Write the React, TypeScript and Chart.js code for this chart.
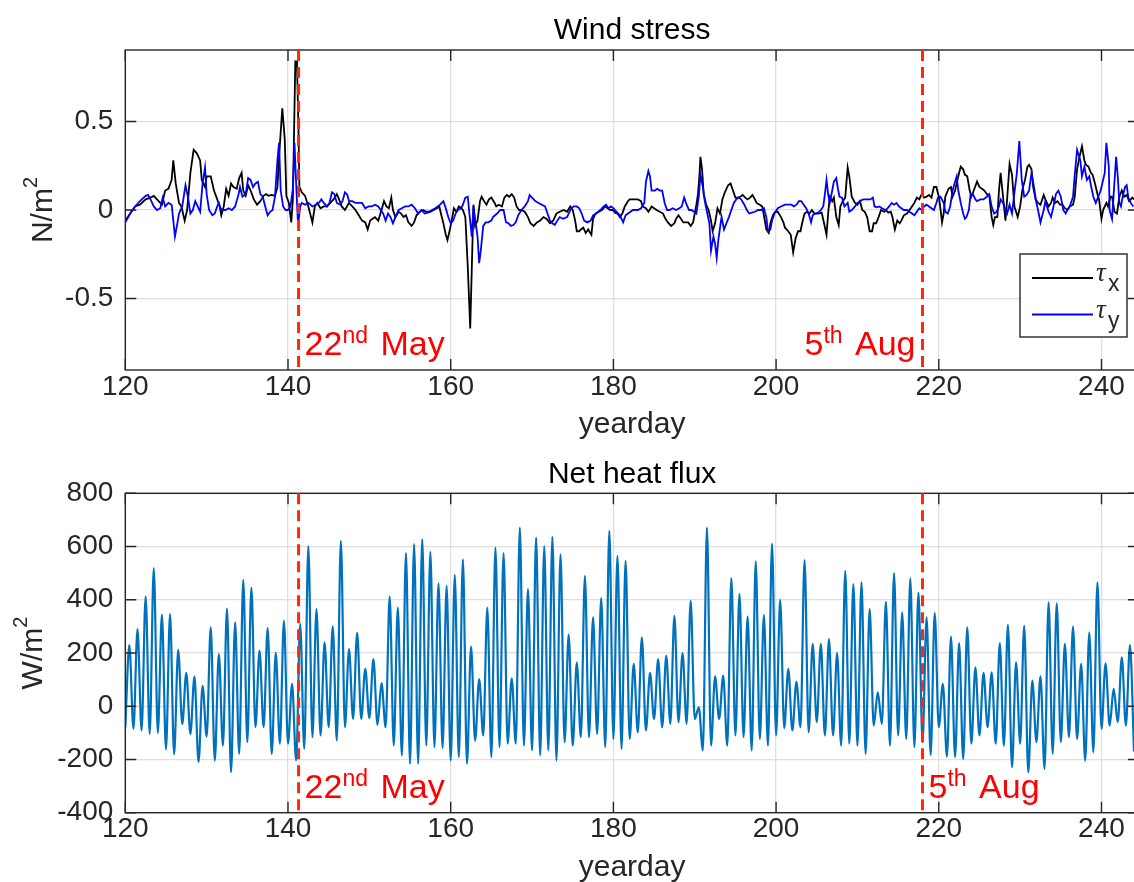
import React, { useEffect, useRef } from 'react';
import { Chart, registerables } from 'chart.js';

Chart.register(...registerables);

const FONT = '"Liberation Sans", Arial, Helvetica, sans-serif';
const AXIS_COLOR = '#262626';
const GRID_COLOR = '#dfdfdf';
const TICK_SIZE = 28;
const LABEL_SIZE = 30;

const X_MIN = 120;
const X_MAX = 244.6;
const X_TICKS = [120, 140, 160, 180, 200, 220, 240];
const WIND_Y_TICKS = [-0.5, 0, 0.5];
const WIND_Y_MIN = -0.904;
const WIND_Y_MAX = 0.904;
const FLUX_Y_TICKS = [-400, -200, 0, 200, 400, 600, 800];
const FLUX_Y_MIN = -400;
const FLUX_Y_MAX = 800;

const EVENT_DAYS = [141.3, 218.0];
const EVENT_LABELS = [
  ['22', 'nd', ' May'],
  ['5', 'th', ' Aug'],
];

// Wind stress, tau_x (N/m^2): [yearday, value]
const tauX: [number, number][] = [
  [120.0,-0.06],[120.6,-0.02],[121.2,0.02],[121.8,0.03],[122.5,0.06],[123.1,0.07],[123.5,0.08],[124.1,0.05],[124.5,0.03],[124.9,0.11],
  [125.3,0.12],[125.7,0.17],[125.9,0.28],[126.2,0.15],[126.6,0.04],[126.9,0.02],[127.3,-0.06],[127.6,0.0],[128.0,0.21],[128.4,0.34],
  [128.8,0.32],[129.2,0.28],[129.4,0.17],[129.8,0.13],[130.0,0.19],[130.5,0.19],[130.9,0.11],[131.3,0.06],[131.6,0.02],[131.8,-0.03],
  [132.1,0.02],[132.4,0.12],[132.7,0.08],[133.0,0.15],[133.3,0.13],[133.7,0.12],[134.0,0.18],[134.3,0.21],[134.5,0.11],[134.8,0.08],
  [135.1,0.14],[135.4,0.11],[135.8,0.06],[136.2,0.03],[136.6,0.05],[137.0,0.08],[137.3,0.09],[137.6,0.08],[138.0,0.085],[138.4,0.08],
  [138.7,0.13],[138.9,0.30],[139.3,0.575],[139.6,0.40],[139.8,0.08],[140.1,0.04],[140.4,-0.07],[140.6,0.06],[140.9,0.84],[141.1,0.84],
  [141.3,0.43],[141.4,0.13],[141.7,0.10],[142.1,0.08],[142.5,0.02],[143.0,-0.07],[143.3,0.02],[143.6,0.04],[144.0,0.01],[144.4,0.02],
  [144.8,0.02],[145.2,0.04],[145.6,0.06],[146.0,0.09],[146.2,0.07],[146.6,0.02],[147.0,0.0],[147.5,0.04],[147.9,0.02],[148.3,0.0],
  [148.7,-0.03],[149.1,-0.06],[149.5,-0.07],[149.8,-0.11],[150.1,-0.06],[150.4,-0.05],[150.7,-0.04],[151.1,-0.06],[151.3,-0.03],
  [151.5,0.0],[151.8,0.05],[152.1,0.02],[152.4,0.01],[152.7,0.07],[152.9,0.0],[153.2,-0.04],[153.6,-0.01],[153.9,-0.02],[154.2,-0.04],
  [154.5,-0.03],[154.8,-0.07],[155.2,-0.09],[155.5,-0.07],[155.8,-0.03],[156.2,-0.01],[156.6,0.0],[157.0,-0.01],[157.5,-0.01],[157.9,0.0],
  [158.3,0.01],[158.6,0.02],[158.8,-0.02],[159.1,-0.075],[159.4,-0.14],[159.6,-0.17],[159.9,-0.11],[160.2,-0.04],[160.4,0.01],[160.7,-0.01],
  [161.0,0.02],[161.3,0.01],[161.5,0.0],[161.8,-0.04],[162.1,-0.32],[162.4,-0.67],[162.6,-0.32],[162.8,0.03],[163.0,-0.09],[163.3,-0.06],
  [163.6,0.05],[163.8,0.075],[164.1,0.05],[164.4,0.03],[164.7,0.06],[165.0,0.07],[165.4,0.04],[165.6,0.02],[165.9,0.03],[166.3,0.02],
  [166.6,0.07],[166.9,0.085],[167.2,0.075],[167.5,0.09],[167.8,0.07],[168.1,0.02],[168.4,0.0],[168.7,0.0],[169.1,-0.01],[169.5,-0.04],
  [169.8,-0.075],[170.2,-0.09],[170.6,-0.07],[171.0,-0.06],[171.4,-0.04],[171.8,-0.05],[172.2,-0.075],[172.6,-0.06],[173.0,-0.02],[173.4,-0.01],
  [173.9,0.0],[174.3,-0.01],[174.7,0.02],[175.0,0.0],[175.3,-0.06],[175.5,-0.12],[175.8,-0.12],[176.0,-0.11],[176.3,-0.10],[176.6,-0.13],
  [176.9,-0.11],[177.3,-0.14],[177.5,-0.05],[177.8,-0.02],[178.2,-0.01],[178.6,0.0],[179.0,0.02],[179.3,0.01],[179.6,0.0],[179.9,0.0],
  [180.2,-0.015],[180.5,-0.02],[180.8,-0.04],[181.1,-0.02],[181.4,0.02],[181.8,0.05],[182.0,0.06],[182.4,0.06],
  [182.6,0.06],[183.0,0.06],[183.4,0.05],[183.6,0.02],[184.0,0.01],[184.3,-0.01],[184.7,0.02],[185.0,0.01],[185.3,0.0],[185.7,-0.01],
  [186.1,-0.02],[186.4,-0.05],[186.7,-0.07],[187.1,-0.09],[187.5,-0.075],[187.7,-0.05],[188.0,-0.03],[188.3,-0.05],[188.6,-0.07],[188.8,-0.07],
  [189.2,-0.07],[189.5,-0.09],[189.8,-0.07],[190.0,-0.02],[190.2,0.03],[190.4,0.09],[190.6,0.21],[190.7,0.30],[190.9,0.23],[191.1,0.09],
  [191.4,0.03],[191.7,0.0],[192.0,-0.06],[192.2,-0.12],[192.5,-0.075],[192.8,0.01],[193.1,-0.02],[193.4,0.06],[193.7,0.10],[194.1,0.14],
  [194.4,0.15],[194.7,0.11],[195.0,0.07],[195.3,0.07],[195.6,0.075],[195.9,0.085],[196.2,0.07],[196.5,0.06],[196.8,0.07],[197.1,0.085],
  [197.4,0.06],[197.6,0.04],[198.0,0.03],[198.3,0.02],[198.5,-0.03],[198.8,-0.11],[199.1,-0.13],[199.3,-0.075],[199.6,-0.03],[199.9,-0.01],
  [200.2,-0.01],[200.6,-0.04],[200.9,-0.07],[201.1,-0.10],[201.5,-0.12],[201.8,-0.14],[202.1,-0.24],[202.4,-0.16],[202.7,-0.12],[203.0,-0.12],
  [203.2,-0.075],[203.5,-0.02],[203.8,-0.01],[204.1,-0.02],[204.4,0.0],[204.7,-0.02],[205.2,-0.02],[205.6,-0.015],[205.9,-0.075],[206.2,-0.14],
  [206.4,-0.02],[206.6,0.075],[206.9,0.05],[207.1,0.07],[207.4,-0.04],[207.7,-0.085],[207.9,0.02],[208.2,0.05],[208.5,0.07],[208.8,0.24],
  [209.0,0.19],[209.3,0.075],[209.7,0.04],[210.0,0.03],[210.3,0.05],[210.6,0.0],[210.9,-0.01],[211.2,-0.04],[211.5,-0.12],[211.8,-0.12],
  [212.0,-0.075],[212.3,-0.075],[212.6,-0.04],[212.9,0.0],[213.3,-0.01],[213.5,0.0],
  [213.8,-0.015],[214.1,-0.01],[214.3,-0.04],[214.6,-0.11],[214.9,-0.06],[215.2,-0.075],[215.4,-0.06],[215.7,-0.03],[216.1,-0.02],[216.4,0.0],
  [216.7,0.02],[217.0,0.04],[217.3,0.07],[217.6,0.06],[217.9,0.09],[218.2,0.07],[218.5,0.075],[218.8,0.085],[219.1,0.07],[219.4,0.13],
  [219.7,0.13],[220.0,0.075],[220.2,0.01],[220.4,-0.07],[220.6,-0.02],[220.8,0.075],[221.2,0.12],[221.5,0.13],[221.7,0.075],[222.0,0.11],
  [222.3,0.17],[222.5,0.21],[222.7,0.245],[223.0,0.23],[223.2,0.20],[223.5,0.19],[223.8,0.11],[224.0,0.075],[224.3,0.11],[224.7,0.16],
  [225.0,0.13],[225.3,0.12],[225.6,0.11],[225.9,0.09],[226.2,0.085],[226.5,-0.04],[226.7,-0.085],[226.9,-0.04],[227.2,-0.04],[227.4,0.11],
  [227.6,0.21],[227.9,0.075],[228.2,-0.06],[228.4,0.06],[228.7,0.26],[229.0,0.20],[229.3,0.02],[229.5,-0.01],[229.7,-0.04],[230.0,0.02],
  [230.3,0.12],[230.6,0.17],[230.9,0.245],[231.1,0.255],[231.4,0.23],[231.6,0.13],[231.9,0.06],[232.2,0.04],[232.5,0.03],[232.9,0.085],
  [233.1,0.06],[233.5,0.02],[233.8,0.04],[234.0,0.07],[234.3,0.04],[234.6,0.05],[234.9,0.03],[235.2,0.03],[235.5,0.01],[235.8,0.0],
  [236.1,0.02],[236.5,0.03],[236.7,0.07],[237.0,0.23],[237.3,0.30],[237.6,0.36],[237.9,0.28],[238.1,0.255],[238.4,0.245],[238.7,0.21],
  [238.9,0.20],[239.2,0.15],[239.5,0.09],[239.7,0.06],[240.0,-0.05],[240.2,0.0],[240.6,0.04],[240.8,0.02],[241.1,0.075],[241.3,0.075],
  [241.6,-0.01],[241.9,-0.02],[242.2,0.075],[242.5,0.11],[242.8,0.075],[243.1,0.085],[243.4,0.05],[243.8,0.07],[244.0,0.06],
];

// Wind stress, tau_y (N/m^2): [yearday, value]
const tauY: [number, number][] = [
  [120.0,-0.07],[120.6,-0.02],[121.2,0.02],[121.8,0.05],[122.5,0.08],[122.8,0.085],[123.1,0.06],[123.5,0.02],[123.9,0.0],[124.3,0.01],
  [124.6,0.07],[124.9,0.02],[125.3,0.04],[125.7,0.03],[125.9,-0.06],[126.1,-0.15],[126.4,-0.075],[126.6,-0.02],[127.0,0.02],[127.4,0.14],
  [127.7,0.075],[128.0,-0.02],[128.3,0.0],[128.6,0.05],[128.9,0.02],[129.2,-0.01],[129.5,0.15],[129.8,0.24],[130.0,0.09],[130.3,0.0],
  [130.7,-0.03],[131.0,-0.02],[131.3,0.02],[131.5,0.04],[131.7,0.01],[131.9,0.0],[132.3,0.0],[132.7,0.01],[133.1,0.0],[133.5,0.02],
  [133.9,0.085],[134.1,0.13],[134.4,0.075],[134.8,0.09],[135.1,0.18],[135.4,0.17],[135.7,0.13],[136.0,0.15],[136.3,0.16],[136.6,0.09],
  [136.9,0.075],[137.2,0.02],[137.5,-0.03],[137.8,-0.01],[138.1,0.0],[138.4,0.075],[138.7,0.28],[138.9,0.38],[139.1,0.11],[139.4,0.02],
  [139.7,0.0],[140.0,0.0],[140.3,0.02],[140.6,0.12],[140.8,0.38],[141.0,0.15],[141.2,-0.05],[141.3,-0.06],[141.5,0.02],[141.7,0.04],
  [142.1,0.03],[142.5,0.04],[143.0,0.02],[143.4,0.03],[143.8,0.04],[144.1,0.06],[144.4,0.04],[144.8,0.02],[145.1,0.04],[145.4,0.10],
  [145.7,0.09],[146.0,0.04],[146.4,0.03],[146.7,0.05],[147.0,0.10],[147.3,0.085],[147.5,0.05],[147.9,0.05],[148.3,0.04],[148.7,0.04],
  [149.1,0.04],[149.5,0.01],[149.9,0.02],[150.3,0.02],[150.7,0.03],[151.1,0.02],
  [151.7,-0.02],[152.0,-0.06],[152.3,-0.02],[152.6,-0.04],[152.9,-0.075],[153.2,-0.04],[153.6,0.0],[154.0,0.01],[154.4,0.02],[154.8,0.02],
  [155.2,0.03],[155.6,0.01],[156.0,-0.02],[156.4,0.0],[156.8,-0.02],[157.2,-0.015],[157.7,0.0],[158.1,0.01],[158.4,0.02],[158.7,0.03],
  [159.1,0.05],[159.4,0.01],[159.7,-0.04],[160.0,-0.075],[160.3,-0.06],[160.6,-0.02],[160.9,0.0],[161.3,0.01],[161.5,0.03],[161.8,0.07],
  [162.1,0.075],[162.3,-0.02],[162.6,-0.15],[162.8,0.02],[163.0,-0.05],[163.3,-0.15],[163.5,-0.30],[163.7,-0.23],[164.0,-0.09],[164.3,-0.07],
  [164.6,-0.07],[165.0,-0.06],[165.2,-0.04],[165.7,-0.02],[166.1,0.0],[166.5,0.0],[166.8,-0.07],[167.1,-0.075],[167.4,-0.09],[167.7,-0.085],
  [168.0,-0.07],[168.3,-0.03],[168.7,0.0],[169.1,0.02],[169.5,0.05],[169.7,0.085],[170.0,0.07],[170.4,0.05],[170.8,0.04],[171.2,0.03],
  [171.6,0.02],[171.9,-0.02],[172.2,-0.06],[172.5,-0.075],[172.8,-0.085],[173.1,-0.06],[173.4,-0.04],[173.8,-0.05],[174.3,-0.04],[174.7,0.0],
  [175.1,0.02],[175.5,0.02],[175.8,0.01],[176.1,-0.02],[176.4,-0.06],[176.8,-0.07],[177.2,-0.06],[177.5,-0.03],[177.9,-0.02],[178.4,0.0],
  [178.8,0.02],[179.1,0.03],[179.4,0.01],[179.7,0.02],[180.0,0.01],[180.4,-0.01],[180.8,-0.03],[181.2,-0.07],[181.5,-0.03],[181.8,-0.02],
  [182.4,0.0],
  [182.6,0.0],[183.0,0.0],[183.4,0.01],[183.8,0.04],[184.0,0.16],[184.3,0.22],[184.5,0.19],[184.7,0.11],[185.1,0.11],[185.4,0.12],
  [185.7,0.11],[186.0,0.11],[186.3,0.04],[186.6,0.0],[186.9,0.0],[187.3,0.01],[187.7,0.0],[188.1,0.01],[188.4,0.02],[188.7,0.07],
  [189.0,0.03],[189.3,0.0],[189.6,0.0],[189.9,-0.01],[190.2,-0.02],[190.5,0.075],[190.7,0.20],[191.0,0.13],[191.2,0.06],[191.5,-0.01],
  [191.8,-0.075],[192.0,-0.23],[192.3,-0.15],[192.5,-0.19],[192.7,-0.27],[192.9,-0.17],[193.2,-0.07],[193.3,-0.04],[193.6,-0.11],[193.9,-0.075],
  [194.2,-0.04],[194.5,0.0],[194.8,0.04],[195.1,0.06],[195.4,0.07],[195.7,0.06],[196.1,0.03],[196.4,0.0],[196.7,-0.02],[197.0,-0.015],
  [197.4,-0.01],[197.8,0.0],[198.2,0.0],[198.5,0.01],[198.8,-0.04],[199.0,-0.12],[199.3,-0.11],[199.5,-0.06],[199.8,-0.02],[200.2,0.01],
  [200.6,0.02],[201.1,0.03],[201.5,0.03],[201.9,0.03],[202.2,0.02],[202.5,0.03],[202.8,0.05],[203.1,0.05],[203.4,0.03],[203.7,0.01],
  [204.0,-0.02],[204.3,-0.07],[204.5,-0.03],[204.8,-0.02],[205.2,-0.015],[205.5,0.0],[205.8,0.02],[206.0,0.09],[206.2,0.17],[206.4,0.09],
  [206.6,0.04],[206.9,0.11],[207.1,0.16],[207.4,0.18],[207.6,0.12],[207.8,0.075],[208.1,0.07],[208.4,0.02],[208.8,0.04],[209.0,-0.01],
  [209.3,0.0],[209.7,0.02],[210.0,0.04],[210.3,0.05],[210.7,0.06],[211.0,0.06],[211.3,0.06],[211.6,0.06],[211.9,0.07],[212.1,0.02],
  [212.4,0.015],[212.7,0.02],[213.0,0.01],[213.5,0.0],
  [213.9,0.02],[214.2,0.04],[214.5,0.03],[214.8,0.04],[215.1,0.02],[215.4,0.01],[215.7,0.0],[216.1,0.0],[216.4,-0.01],[216.7,-0.02],
  [217.0,-0.03],[217.3,-0.01],[217.6,0.01],[217.9,0.0],[218.2,0.02],[218.5,0.03],[218.8,0.02],[219.1,0.01],[219.4,0.0],[219.7,0.04],
  [219.9,0.07],[220.2,0.075],[220.6,0.04],[220.8,-0.01],[221.1,-0.02],[221.4,0.02],[221.7,0.11],[222.0,0.16],[222.2,0.19],[222.4,0.11],
  [222.7,0.04],[223.0,-0.02],[223.2,-0.05],[223.4,-0.04],[223.7,0.0],[223.9,0.085],[224.2,0.09],[224.5,0.06],[224.7,0.05],[225.1,0.06],
  [225.5,0.06],[225.9,0.075],[226.2,0.09],[226.5,0.02],[226.8,-0.02],[227.1,-0.01],[227.4,0.02],[227.6,0.06],[227.9,0.04],[228.2,0.0],
  [228.4,-0.02],[228.7,0.03],[229.0,-0.02],[229.2,0.06],[229.6,0.21],[229.9,0.39],[230.2,0.17],[230.5,0.075],[230.8,0.085],[231.1,0.11],
  [231.4,0.21],[231.7,0.13],[232.0,0.04],[232.2,0.0],[232.5,-0.07],[232.9,0.0],[233.1,0.05],[233.5,-0.01],[233.8,-0.04],[234.1,0.02],
  [234.4,0.09],[234.7,0.11],[235.0,0.075],[235.3,0.0],[235.6,-0.02],[235.8,0.0],[236.1,0.02],[236.5,0.075],[236.7,0.19],[237.0,0.34],
  [237.4,0.28],[237.6,0.19],[237.9,0.245],[238.2,0.17],[238.5,0.19],[238.7,0.14],[239.0,0.075],[239.3,0.04],[239.6,0.075],[239.9,0.11],
  [240.1,0.15],[240.4,0.21],[240.6,0.38],[240.9,0.245],[241.0,0.0],[241.3,-0.05],[241.5,0.09],[241.8,0.30],[242.0,0.19],[242.2,0.04],
  [242.4,0.02],[242.6,0.075],[242.9,0.13],[243.1,0.14],[243.3,0.07],[243.6,0.04],[243.9,0.02],
];

// Net heat flux (W/m^2): daily midday maxima and night minima, [yearday, value]
const netHeatFlux: [number, number][] = [
  [120.0,-79],[120.5,230],[121.0,-85],[121.5,290],[122.0,-91],[122.5,412],[123.0,-104],[123.5,519],[124.0,-100],[124.5,344],
  [125.0,-162],[125.5,346],[126.0,-180],[126.5,212],[127.0,-67],[127.5,125],[128.0,-104],[128.5,112],[129.0,-210],[129.5,77],
  [130.0,-114],[130.5,296],[131.0,-204],[131.5,196],[132.0,-148],[132.5,367],[133.0,-248],[133.5,315],[134.0,-179],[134.5,475],
  [135.0,-135],[135.5,446],[136.0,-79],[136.5,209],[137.0,-79],[137.5,294],[138.0,-179],[138.5,201],[139.0,-141],[139.5,321],
  [140.0,-141],[140.5,84],[141.0,-204],[141.5,309],[142.0,-160],[142.5,602],[143.0,-116],[143.5,365],[144.0,-110],[144.5,240],
  [145.0,-79],[145.5,300],[146.0,-129],[146.5,621],[147.0,-79],[147.5,215],[148.0,-48],[148.5,277],[149.0,-48],[149.5,140],
  [150.0,-45],[150.5,177],[151.0,-70],[151.5,87],[152.0,-79],[152.5,412],[153.0,-148],[153.5,371],[154.0,-185],[154.5,575],
  [155.0,-216],[155.5,609],[156.0,-216],[156.5,627],[157.0,-148],[157.5,580],[158.0,-154],[158.5,462],[159.0,-157],[159.5,452],
  [160.0,-204],[160.5,494],[161.0,-191],[161.5,552],[162.0,-216],[162.5,224],[163.0,-129],[163.5,102],[164.0,-110],[164.5,371],
  [165.0,-191],[165.5,596],[166.0,-154],[166.5,575],[167.0,-141],[167.5,105],[168.0,-141],[168.5,671],[169.0,-148],[169.5,440],
  [170.0,-166],[170.5,634],[171.0,-185],[171.5,602],[172.0,-166],[172.5,636],[173.0,-204],[173.5,571],[174.0,-135],[174.5,269],
  [175.0,-148],[175.5,165],[176.0,-116],[176.5,490],[177.0,-116],[177.5,334],[178.0,-104],[178.5,406],[179.0,-154],[179.5,659],
  [180.0,-123],[180.5,565],[181.0,-160],[181.5,546],[182.0,-123],[182.5,159],[183.0,-98],[183.5,259],[184.0,-91],[184.5,125],
  [185.0,-48],[185.5,177],[186.0,-79],[186.5,190],[187.0,-66],[187.5,340],[188.0,-60],[188.5,200],[189.0,-66],[189.5,396],
  [190.0,-48],[190.5,-4],[191.0,-166],[191.5,671],[192.0,-148],[192.5,112],[193.0,-48],[193.5,115],[194.0,-148],[194.5,481],
  [195.0,-110],[195.5,421],[196.0,-116],[196.5,337],[197.0,-166],[197.5,544],[198.0,-123],[198.5,342],[199.0,-148],[199.5,611],
  [200.0,-110],[200.5,400],[201.0,-82],[201.5,140],[202.0,-91],[202.5,92],[203.0,-79],[203.5,549],[204.0,-98],[204.5,234],
  [205.0,-60],[205.5,234],[206.0,-110],[206.5,252],[207.0,-110],[207.5,200],[208.0,-148],[208.5,509],[209.0,-141],[209.5,459],
  [210.0,-148],[210.5,465],[211.0,-179],[211.5,365],[212.0,-73],[212.5,52],[213.0,-66],[213.5,392],[214.0,-148],[214.5,500],
  [215.0,-110],[215.5,352],[216.0,-123],[216.5,480],[217.0,-154],[217.5,427],[218.0,-135],[218.5,334],[219.0,-183],[219.5,350],
  [220.0,-79],[220.5,84],[221.0,-189],[221.5,262],[222.0,-191],[222.5,237],[223.0,-198],[223.5,296],[224.0,-141],[224.5,146],
  [225.0,-110],[225.5,125],[226.0,-79],[226.5,127],[227.0,-141],[227.5,237],[228.0,-148],[228.5,306],[229.0,-229],[229.5,165],
  [230.0,-141],[230.5,302],[231.0,-248],[231.5,96],[232.0,-135],[232.5,112],[233.0,-235],[233.5,390],[234.0,-179],[234.5,387],
  [235.0,-135],[235.5,234],[236.0,-116],[236.5,299],[237.0,-123],[237.5,159],[238.0,-204],[238.5,277],[239.0,-173],[239.5,465],
  [240.0,-85],[240.5,161],[241.0,-73],[241.5,65],[242.0,-60],[242.5,184],[243.0,-73],[243.5,230],[244.0,-170],
];

type Part = { t: string; size: number; rise: number; font?: string; gapAfter?: number };

function drawRich(ctx: CanvasRenderingContext2D, parts: Part[], x: number, y: number, align: 'left' | 'right' | 'center') {
  ctx.textAlign = 'left';
  ctx.textBaseline = 'alphabetic';
  const widths = parts.map((p) => {
    ctx.font = p.font || `${p.size}px ${FONT}`;
    return ctx.measureText(p.t).width + (p.gapAfter || 0);
  });
  const total = widths.reduce((a, b) => a + b, 0);
  let cx = align === 'right' ? x - total : align === 'center' ? x - total / 2 : x;
  parts.forEach((p, i) => {
    ctx.font = p.font || `${p.size}px ${FONT}`;
    ctx.fillText(p.t, cx, y - p.rise);
    cx += widths[i];
  });
}

const framePlugin = {
  id: 'matlabFrame',
  afterDatasetsDraw(chart: any) {
    const { ctx, chartArea: a, scales } = chart;
    ctx.save();
    ctx.strokeStyle = AXIS_COLOR;
    ctx.lineWidth = 1.4;
    ctx.strokeRect(a.left, a.top, a.right - a.left, a.bottom - a.top);
    const L = 11;
    ctx.beginPath();
    for (const t of scales.x.ticks) {
      const px = scales.x.getPixelForValue(t.value);
      ctx.moveTo(px, a.bottom);
      ctx.lineTo(px, a.bottom - L);
      ctx.moveTo(px, a.top);
      ctx.lineTo(px, a.top + L);
    }
    for (const t of scales.y.ticks) {
      const py = scales.y.getPixelForValue(t.value);
      ctx.moveTo(a.left, py);
      ctx.lineTo(a.left + L, py);
      ctx.moveTo(a.right, py);
      ctx.lineTo(a.right - L, py);
    }
    ctx.stroke();
    ctx.restore();
  },
};

type PanelSpec = {
  title: string;
  yLabel: string;
  yLabelBaselineX: number;
  eventAlign: ('left' | 'right')[];
  legend: boolean;
};

function makeOverlay(spec: PanelSpec) {
  return {
    id: 'overlay',
    afterDatasetsDraw(chart: any) {
      const { ctx, chartArea: a, scales } = chart;
      const x = scales.x;
      ctx.save();
      ctx.strokeStyle = 'rgb(255,40,10)';
      ctx.lineWidth = 3;
      ctx.setLineDash([11, 6]);
      EVENT_DAYS.forEach((d) => {
        const px = x.getPixelForValue(d);
        ctx.beginPath();
        ctx.moveTo(px, a.top);
        ctx.lineTo(px, a.bottom);
        ctx.stroke();
      });
      ctx.setLineDash([]);
      ctx.fillStyle = '#ff0000';
      EVENT_LABELS.forEach((lab, i) => {
        const px = x.getPixelForValue(EVENT_DAYS[i]);
        const align = spec.eventAlign[i];
        const parts: Part[] = [
          { t: lab[0], size: 34, rise: 0 },
          { t: lab[1], size: 23, rise: 12, gapAfter: 3 },
          { t: lab[2], size: 34, rise: 0 },
        ];
        drawRich(ctx, parts, align === 'right' ? px - 7 : px + 6, a.bottom - 15, align);
      });
      if (spec.legend) {
        const lx = 1020, ly = 254, lw = 107, lh = 83;
        ctx.fillStyle = '#ffffff';
        ctx.fillRect(lx, ly, lw, lh);
        ctx.strokeStyle = AXIS_COLOR;
        ctx.lineWidth = 1.4;
        ctx.strokeRect(lx, ly, lw, lh);
        const rows = [
          { color: '#000000', sub: 'x', y: 278 },
          { color: '#0000ff', sub: 'y', y: 314.5 },
        ];
        rows.forEach((r) => {
          ctx.strokeStyle = r.color;
          ctx.lineWidth = 1.8;
          ctx.beginPath();
          ctx.moveTo(1032, r.y);
          ctx.lineTo(1093, r.y);
          ctx.stroke();
          ctx.fillStyle = AXIS_COLOR;
          ctx.textAlign = 'left';
          ctx.textBaseline = 'alphabetic';
          ctx.font = 'italic 27px "Liberation Serif", "DejaVu Serif", serif';
          ctx.fillText('τ', 1096, r.y + 3);
          ctx.font = `23px ${FONT}`;
          ctx.fillText(r.sub, 1108, r.y + 13);
        });
      }
      ctx.restore();
    },
    afterDraw(chart: any) {
      const { ctx, chartArea: a } = chart;
      ctx.save();
      ctx.fillStyle = '#000000';
      ctx.textAlign = 'center';
      ctx.textBaseline = 'middle';
      ctx.font = `${LABEL_SIZE}px ${FONT}`;
      ctx.fillText(spec.title, (a.left + a.right) / 2, a.top - 19);
      ctx.fillStyle = AXIS_COLOR;
      ctx.textBaseline = 'alphabetic';
      ctx.font = `${LABEL_SIZE}px ${FONT}`;
      ctx.fillText('yearday', (a.left + a.right) / 2, a.bottom + 63);
      ctx.translate(spec.yLabelBaselineX, (a.top + a.bottom) / 2);
      ctx.rotate(-Math.PI / 2);
      drawRich(ctx, [
        { t: spec.yLabel, size: LABEL_SIZE, rise: 0 },
        { t: '2', size: 20, rise: 15 },
      ], 0, 0, 'center');
      ctx.restore();
    },
  };
}

function tickFilter(values: number[]) {
  return (scale: any) => {
    scale.ticks = values.map((v) => ({ value: v }));
  };
}

function buildConfig(opts: {
  datasets: any[];
  spec: PanelSpec;
  padTop: number;
  xAxisHeight: number;
  yMin: number;
  yMax: number;
  yTicks: number[];
}) {
  return {
    type: 'line' as const,
    data: { datasets: opts.datasets },
    options: {
      responsive: false,
      maintainAspectRatio: false,
      animation: false as const,
      events: [] as any[],
      layout: { padding: { top: opts.padTop, left: 0, right: 2.1, bottom: 0 } },
      plugins: {
        legend: { display: false },
        tooltip: { enabled: false },
        title: { display: false },
      },
      scales: {
        x: {
          type: 'linear' as const,
          min: X_MIN,
          max: X_MAX,
          afterBuildTicks: tickFilter(X_TICKS),
          afterFit: (s: any) => {
            s.height = opts.xAxisHeight;
          },
          grid: { color: GRID_COLOR, lineWidth: 1.3, drawTicks: false },
          border: { display: false },
          ticks: {
            padding: 0,
            autoSkip: false,
            maxRotation: 0,
            color: AXIS_COLOR,
            font: { family: FONT, size: TICK_SIZE },
            callback: (v: any) => String(v),
          },
        },
        y: {
          type: 'linear' as const,
          min: opts.yMin,
          max: opts.yMax,
          afterBuildTicks: tickFilter(opts.yTicks),
          afterFit: (s: any) => {
            s.width = 125.3;
          },
          grid: { color: GRID_COLOR, lineWidth: 1.3, drawTicks: false },
          border: { display: false },
          ticks: {
            padding: 12,
            autoSkip: false,
            color: AXIS_COLOR,
            font: { family: FONT, size: TICK_SIZE },
            callback: (v: any) => String(v),
          },
        },
      },
    },
    plugins: [framePlugin, makeOverlay(opts.spec)],
  };
}

const toPoints = (arr: [number, number][]) => arr.map(([x, y]) => ({ x, y }));

export default function App() {
  const topRef = useRef<HTMLCanvasElement>(null);
  const botRef = useRef<HTMLCanvasElement>(null);

  useEffect(() => {
    const windChart = new Chart(
      topRef.current as HTMLCanvasElement,
      buildConfig({
        datasets: [
          {
            label: 'τy',
            data: toPoints(tauY),
            borderColor: '#0000ff',
            borderWidth: 1.8,
            pointRadius: 0,
            tension: 0,
            order: 0,
          },
          {
            label: 'τx',
            data: toPoints(tauX),
            borderColor: '#000000',
            borderWidth: 1.8,
            pointRadius: 0,
            tension: 0,
            order: 1,
          },
        ],
        spec: {
          title: 'Wind stress',
          yLabel: 'N/m',
          yLabelBaselineX: 52,
          eventAlign: ['left', 'right'],
          legend: true,
        },
        padTop: 50,
        xAxisHeight: 70,
        yMin: WIND_Y_MIN,
        yMax: WIND_Y_MAX,
        yTicks: WIND_Y_TICKS,
      }) as any
    );
    const fluxChart = new Chart(
      botRef.current as HTMLCanvasElement,
      buildConfig({
        datasets: [
          {
            label: 'Net heat flux',
            data: toPoints(netHeatFlux),
            borderColor: '#0072bd',
            borderWidth: 2.2,
            pointRadius: 0,
            cubicInterpolationMode: 'monotone',
          },
        ],
        spec: {
          title: 'Net heat flux',
          yLabel: 'W/m',
          yLabelBaselineX: 42,
          eventAlign: ['left', 'left'],
          legend: false,
        },
        padTop: 53.3,
        xAxisHeight: 69.3,
        yMin: FLUX_Y_MIN,
        yMax: FLUX_Y_MAX,
        yTicks: FLUX_Y_TICKS,
      }) as any
    );
    return () => {
      windChart.destroy();
      fluxChart.destroy();
    };
  }, []);

  return (
    <div
      style={{
        position: 'absolute',
        left: 0,
        top: 0,
        width: 1134,
        height: 882,
        overflow: 'hidden',
        background: '#ffffff',
      }}
    >
      <canvas ref={topRef} width={1141} height={440} style={{ position: 'absolute', left: 0, top: 0 }} />
      <canvas ref={botRef} width={1141} height={442} style={{ position: 'absolute', left: 0, top: 440 }} />
    </div>
  );
}
